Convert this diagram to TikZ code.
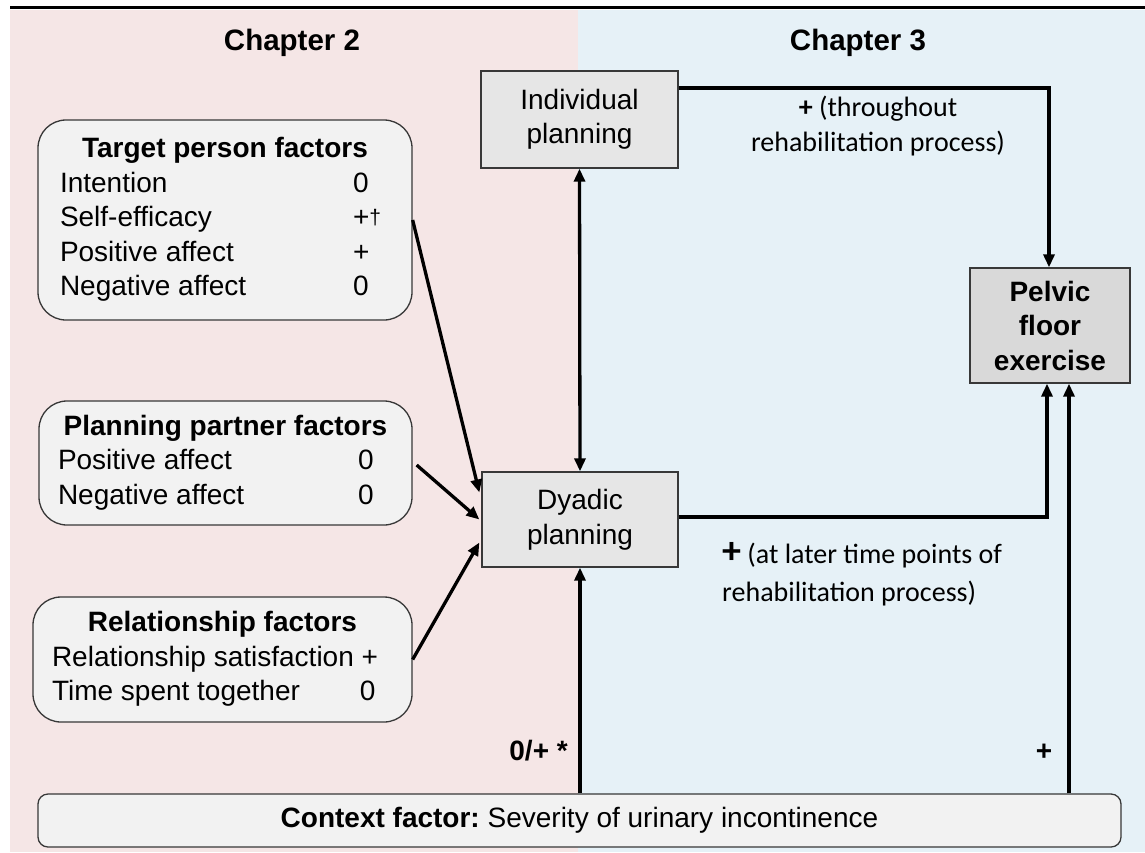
\documentclass[tikz,border=0pt]{standalone}
\usepackage{fontspec}
\setmainfont{Liberation Sans}
\newfontfamily\notefont{Carlito}
\usetikzlibrary{arrows.meta,calc}
\definecolor{chapA}{HTML}{F5E6E6}
\definecolor{chapB}{HTML}{E6F1F7}
\definecolor{factorfill}{HTML}{F2F2F2}
\definecolor{planfill}{HTML}{E6E6E6}
\definecolor{outfill}{HTML}{D9D9D9}
\definecolor{edgegray}{HTML}{383838}

\begin{document}
\begin{tikzpicture}[x=1pt,y=-1pt,
  every node/.style={font=\fontsize{28}{34.5}\selectfont, inner sep=0pt},
  factor/.style={draw=edgegray, line width=1.3pt, fill=factorfill, rounded corners=28pt, inner ysep=0pt},
  plan/.style={draw=edgegray, line width=1.3pt, fill=planfill, align=center},
  outcome/.style={draw=edgegray, line width=1.3pt, fill=outfill, align=center, font=\fontsize{28}{34.5}\selectfont\bfseries},
  context/.style={draw=edgegray, line width=1.3pt, fill=factorfill, rounded corners=10pt},
  chapter/.style={font=\fontsize{29.5}{34}\selectfont\bfseries, anchor=base},
  note/.style={font=\notefont\fontsize{28}{35}\selectfont},
  arr/.style={line width=3.3pt, -{Triangle[length=13pt,width=11pt]}},
  biarr/.style={line width=3.3pt, {Triangle[length=13pt,width=11pt]}-{Triangle[length=13pt,width=11pt]}},
  link/.style={line width=3.8pt, line join=miter, -{Triangle[length=13pt,width=11pt]}}]

\useasboundingbox (0,0) rectangle (1145,852);

% chapter panels
\fill[chapA] (10,10) rectangle (578,852);
\fill[chapB] (578,10) rectangle (1145,852);
\draw[line width=3pt] (10,7) -- (1145,7);

\node[chapter] (ch2) at (292,50) {Chapter 2};
\node[chapter] (ch3) at (858,50) {Chapter 3};

% predictor boxes
\node[factor, minimum width=374pt, minimum height=200pt, inner xsep=22pt] (tpf) at (225,220)
  {\begin{tabular}{@{}p{293pt}@{}p{37pt}@{}}
   \multicolumn{2}{@{}c@{}}{\bfseries Target person factors}\\
   Intention & 0\\
   Self-efficacy & +\raisebox{2pt}{\fontsize{21}{21}\selectfont †}\\
   Positive affect & +\\
   Negative affect & 0
   \end{tabular}};

\node[factor, minimum width=373pt, minimum height=124pt, inner xsep=19pt] (ppf) at (225.5,463)
  {\begin{tabular}{@{}p{300pt}@{}p{35pt}@{}}
   \multicolumn{2}{@{}c@{}}{\bfseries Planning partner factors}\\
   Positive affect & 0\\
   Negative affect & 0
   \end{tabular}};

\node[factor, minimum width=379pt, minimum height=125pt, inner xsep=19pt] (rel) at (222.5,659.5)
  {\begin{tabular}{@{}p{308pt}@{}p{33pt}@{}}
   \multicolumn{2}{@{}c@{}}{\bfseries Relationship factors}\\
   \multicolumn{2}{@{}l@{}}{Relationship satisfaction +}\\
   Time spent together & 0
   \end{tabular}};

% planning and outcome boxes
\node[plan, minimum width=197pt, minimum height=97pt] (ind) at (579.5,119.5) {Individual\\planning};
\node[plan, minimum width=196pt, minimum height=95pt] (dya) at (580,519.5) {Dyadic\\planning};
\node[outcome, minimum width=160pt, minimum height=115pt] (pfe) at (1050,325.5) {Pelvic\\floor\\exercise};

\node[context, minimum width=1083pt, minimum height=53pt] (ctx) at (579.5,820.5)
  {\textbf{Context factor:}\ Severity of urinary incontinence};

% connectors
\draw[arr] (tpf.east) -- ([yshift=27pt,xshift=-2pt]dya.west);
\draw[arr] ([yshift=-2pt,xshift=4pt]ppf.east) -- ([xshift=-2pt]dya.west);
\draw[arr] (rel.east) -- ([yshift=-23pt,xshift=-2pt]dya.west);
\draw[biarr] (ind.south) -- (dya.north);
\draw[arr] (dya.south |- ctx.north) -- (dya.south);
\draw[link] ([yshift=31.5pt]ind.east) -| ([xshift=-1pt]pfe.north);
\draw[link] ([yshift=2.5pt]dya.east) -| ([xshift=-3pt]pfe.south);
\draw[arr] ([xshift=19pt]pfe.south |- ctx.north) -- ([xshift=19pt]pfe.south);

% effect labels
\node[note, anchor=base] (lblind) at (878,116)
  {\begin{tabular}[t]{@{}c@{}}\textbf{+} (throughout\\ rehabilitation process)\end{tabular}};
\node[note, anchor=base west] (lbldya) at (722,563)
  {\fontsize{28}{38}\selectfont\begin{tabular}[t]{@{}l@{}}{\fontsize{38}{38}\selectfont\bfseries +} (at later time points of\\ rehabilitation process)\end{tabular}};
\node[anchor=base east, font=\fontsize{28}{34}\selectfont\bfseries] (lblctxa) at (568,760) {0/+ *};
\node[anchor=base, font=\fontsize{28}{34}\selectfont\bfseries] (lblctxb) at (1044,760) {+};

\end{tikzpicture}
\end{document}
